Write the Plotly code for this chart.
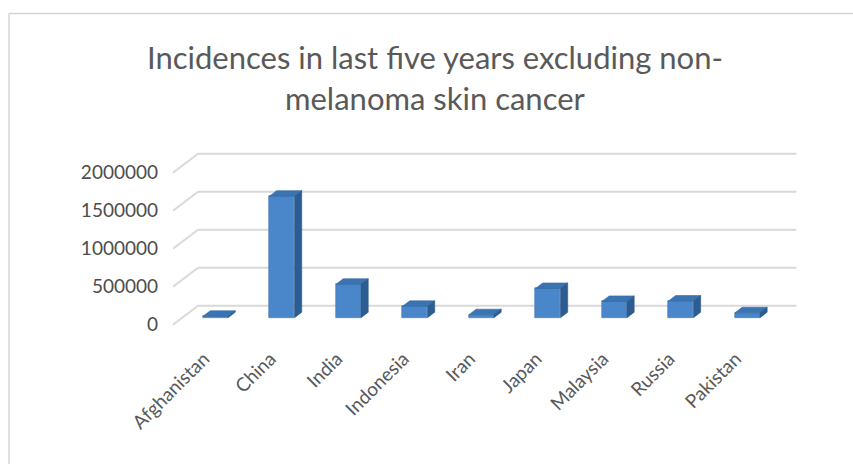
import plotly.graph_objects as go

# ---- data ----
countries = ["Afghanistan", "China", "India", "Indonesia", "Iran",
             "Japan", "Malaysia", "Russia", "Pakistan"]
incidences = [20000, 1600000, 440000, 150000, 40000,
              385000, 215000, 220000, 65000]
y_ticks = [0, 500000, 1000000, 1500000, 2000000]
title_lines = ["Incidences in last five years excluding non-",
               "melanoma skin cancer"]

# ---- layout geometry (pixels) ----
FW, FH = 853, 464
ML, MR, MT, MB = 173, 55, 150, 121
XR = [-0.5, 8.9]
YR = [-240000, 2300000]
PW, PH = FW - ML - MR, FH - MT - MB

def px2paper_x(p):
    return (p - ML) / PW

def px2paper_y(p):
    return (FH - MB - p) / PH

# pseudo-3D depth (in data units)
DX = 0.376          # horizontal depth offset of back wall (category units)
DY = 250000         # vertical depth offset of back wall (value units)
F1, F2 = 0.37, 0.66  # bar front / back depth fractions
BW = 0.376          # bar width (category units)

FRONT = "#4a87ca"
SIDE = "#2c5d92"
TOP = "#3b74b2"
GRID = "#d9d9d9"
TXT = "#595959"
FONT = "Lato"

fig = go.Figure()

# back-wall gridlines + left-side diagonals
shapes = []
x_left, x_right = XR[0], 8.5
for v in y_ticks:
    shapes.append(dict(type="line", xref="x", yref="y", layer="below",
                       x0=x_left + DX, x1=x_right + DX, y0=v + DY, y1=v + DY,
                       line=dict(color=GRID, width=2)))
    shapes.append(dict(type="line", xref="x", yref="y", layer="below",
                       x0=x_left, x1=x_left + DX, y0=v, y1=v + DY,
                       line=dict(color=GRID, width=2)))

# front faces of the bars
xs = list(range(len(countries)))
fig.add_trace(go.Bar(
    x=[i + F1 * DX for i in xs], y=incidences, base=[F1 * DY] * len(xs),
    width=BW, marker=dict(color=FRONT, line=dict(color="#3f78b6", width=0.6)),
    hoverinfo="skip", showlegend=False))

# top and side faces
ddx, ddy = (F2 - F1) * DX, (F2 - F1) * DY
for i, v in zip(xs, incidences):
    c = i + F1 * DX
    xl, xr = c - BW / 2, c + BW / 2
    b1 = F1 * DY
    t1 = b1 + v
    fig.add_trace(go.Scatter(
        x=[xl, xr, xr + ddx, xl + ddx, xl],
        y=[t1, t1, t1 + ddy, t1 + ddy, t1],
        fill="toself", fillcolor=TOP, mode="lines",
        line=dict(color="#36699f", width=0.6),
        hoverinfo="skip", showlegend=False))
    fig.add_trace(go.Scatter(
        x=[xr, xr, xr + ddx, xr + ddx, xr],
        y=[b1, t1, t1 + ddy, b1 + ddy, b1],
        fill="toself", fillcolor=SIDE, mode="lines",
        line=dict(color="#2a5788", width=0.6),
        hoverinfo="skip", showlegend=False))

# chart border
shapes.append(dict(type="line", xref="paper", yref="paper",
                   x0=px2paper_x(9), x1=px2paper_x(FW + 5),
                   y0=px2paper_y(13.5), y1=px2paper_y(13.5),
                   line=dict(color="#d4d4d4", width=1.5)))
shapes.append(dict(type="line", xref="paper", yref="paper",
                   x0=px2paper_x(9), x1=px2paper_x(9),
                   y0=px2paper_y(13.5), y1=px2paper_y(FH + 5),
                   line=dict(color="#d4d4d4", width=1.5)))

annotations = []
for txt, yp in zip(title_lines, [57, 98]):
    annotations.append(dict(text=txt, xref="paper", yref="paper",
                            x=px2paper_x(435), y=px2paper_y(yp),
                            xanchor="center", yanchor="middle", showarrow=False,
                            font=dict(family=FONT, size=31, color=TXT)))

fig.update_layout(
    width=FW, height=FH, autosize=False,
    template="none",
    paper_bgcolor="white", plot_bgcolor="white",
    margin=dict(l=ML, r=MR, t=MT, b=MB, pad=0),
    shapes=shapes, annotations=annotations,
    bargap=0,
    xaxis=dict(range=XR, tickmode="array", tickvals=[i - 0.035 for i in xs],
               ticktext=countries, tickangle=-45, showgrid=False,
               zeroline=False, showline=False, ticks="", automargin=False,
               tickfont=dict(family=FONT, size=19, color=TXT), fixedrange=True),
    yaxis=dict(range=YR, tickmode="array", tickvals=y_ticks,
               ticktext=[str(v) for v in y_ticks], showgrid=False,
               zeroline=False, showline=False, ticks="", automargin=False,
               ticklabelstandoff=14,
               tickfont=dict(family=FONT, size=19, color="#4d4d4d"),
               fixedrange=True),
)

fig.write_html("out.html")
